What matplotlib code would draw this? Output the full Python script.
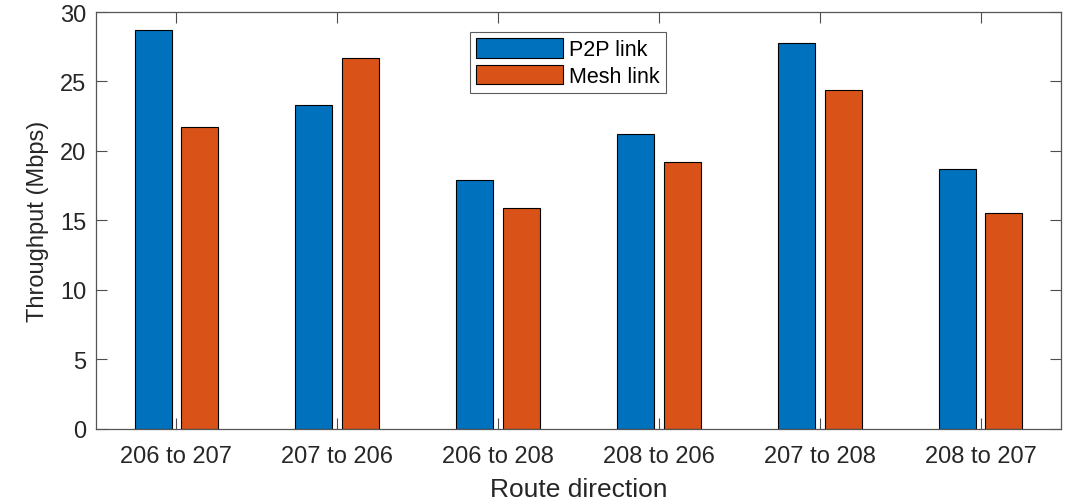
import matplotlib
matplotlib.use("Agg")
import matplotlib.pyplot as plt
import numpy as np

routes = ["206 to 207", "207 to 206", "206 to 208", "208 to 206", "207 to 208", "208 to 207"]
p2p = [28.7, 23.3, 17.9, 21.2, 27.75, 18.7]
mesh = [21.7, 26.7, 15.9, 19.2, 24.4, 15.5]

BLUE = "#0072BD"
ORANGE = "#D95319"
AX = "#262626"

plt.rcParams["font.family"] = ["Liberation Sans", "DejaVu Sans"]

fig = plt.figure(figsize=(10.73, 5.02), dpi=100)
ax = fig.add_axes([96 / 1073, 1 - 429.5 / 502, (1061 - 96) / 1073, (429.5 - 13) / 502])

x = np.arange(1, len(routes) + 1)
w = 0.23
off = 0.145
ax.bar(x - off, p2p, w, color=BLUE, edgecolor="black", linewidth=0.8, label="P2P link")
ax.bar(x + off, mesh, w, color=ORANGE, edgecolor="black", linewidth=0.8, label="Mesh link")

ax.set_xlim(0.5, 6.5)
ax.set_ylim(0, 30)
ax.set_xticks(x)
ax.set_xticklabels(routes)
ax.set_yticks(range(0, 31, 5))
ax.tick_params(direction="in", length=8, width=0.8, colors="#4d4d4d",
               labelcolor=AX, labelsize=17, top=True, right=True)
ax.tick_params(axis="x", pad=12)
ax.tick_params(axis="y", pad=7)
for s in ax.spines.values():
    s.set_color("#555555")
    s.set_linewidth(0.9)

ax.set_xlabel("Route direction", fontsize=19, color=AX, labelpad=7)
ax.set_ylabel("Throughput (Mbps)", fontsize=17, color=AX, labelpad=8)

leg = ax.legend(loc="upper left", bbox_to_anchor=(374 / 965, 1 - 20 / 416.5),
                fontsize=15.5, frameon=True, fancybox=False, edgecolor="#333333",
                handlelength=4.0, handleheight=1.0, handletextpad=0.3,
                borderpad=0.3, labelspacing=0.2, borderaxespad=0)
leg.get_frame().set_linewidth(0.8)

fig.savefig("out.png", dpi=100)
